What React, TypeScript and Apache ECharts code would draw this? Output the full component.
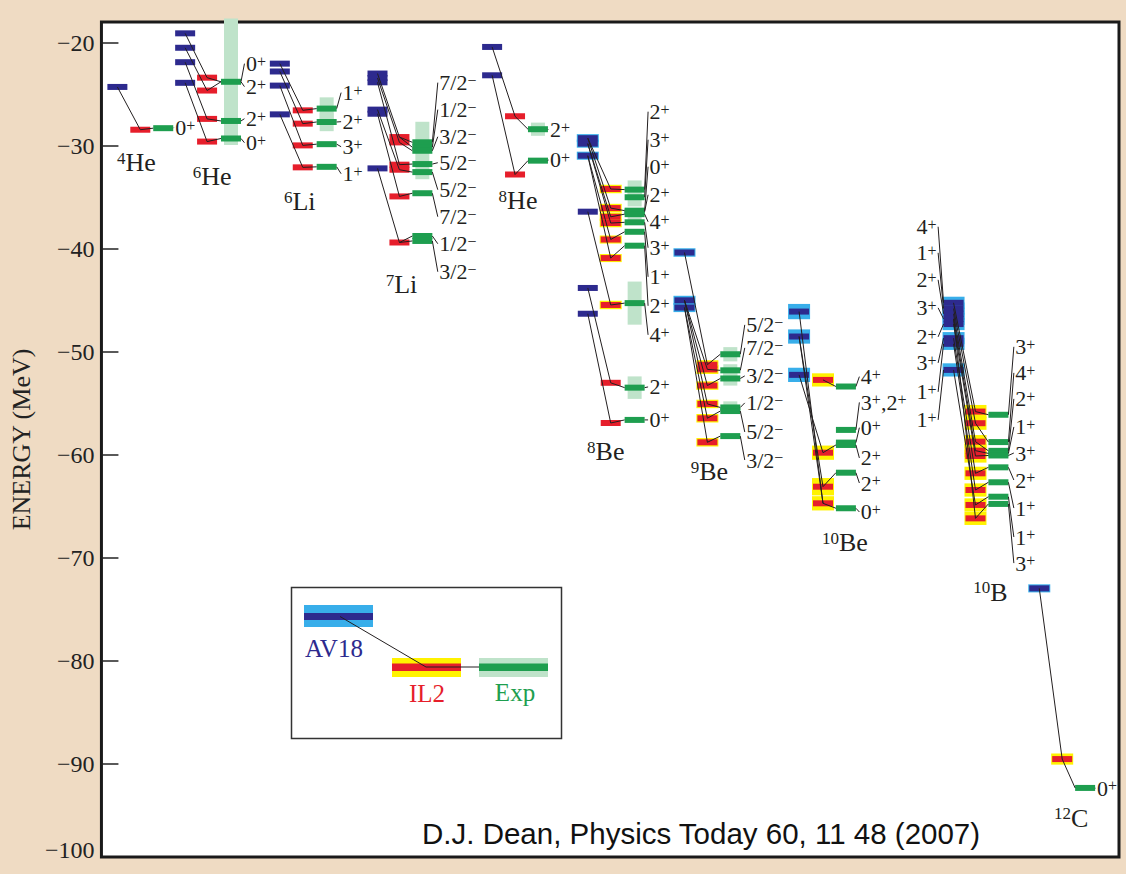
import React, { useEffect, useRef } from "react";
import * as echarts from "echarts";

// ---------------- data ----------------
const NUCLEUS_MASS = ["4", "6", "6", "7", "8", "8", "9", "10", "10", "12"];
const NUCLEUS_SYMBOL = ["He", "He", "Li", "Li", "He", "Be", "Be", "Be", "B", "C"];
const NAME_X = [133, 209, 297, 399, 516, 604, 708, 844, 990, 1071];
const NAME_E = [-31.65, -33.0, -35.44, -43.5, -35.34, -59.7, -61.65, -68.54, -73.3, -95.24];

// horizontal column positions of the three calculations / data for each nucleus
const X_AV18 = [114, 182, 277, 375, 490, 586, 683, 798, 953, 1039];
const X_IL2 = [137, 204, 300, 397, 513, 609, 706, 822, 975, 1062];
const X_EXP = [160, 228, 324, 420, 536, 633, 729, 845, 998, 1085];
const LABEL_X = [172, 243, 340, 437, 548, 648, 745, 860, 1015, 1097];

const AV18_E = [
  [-24.3],
  [-19.1, -20.5, -21.9, -23.9],
  [-22.04, -22.8, -24.17, -26.96],
  [-23.0, -23.43, -23.85, -26.5, -26.9, -32.2],
  [-20.42, -23.17],
  [-29.27, -29.8, -30.97, -36.4, -43.8, -46.3],
  [-40.36, -45.0, -45.7],
  [-46.09, -48.51, -52.23],
  [-45.24, -45.8, -46.3, -46.8, -47.3, -48.67, -49.22, -51.75],
  [-72.94],
];
const AV18_ERR = [
  [0],
  [0, 0, 0, 0],
  [0, 0, 0, 0],
  [0, 0, 0, 0, 0, 0],
  [0, 0],
  [0.1, 0.1, 0.1, 0, 0, 0],
  [0.12, 0.15, 0.15],
  [0.45, 0.4, 0.4],
  [0.3, 0.3, 0.3, 0.3, 0.3, 0.3, 0.3, 0.35],
  [0.1],
];
const IL2_E = [
  [-28.45],
  [-23.4, -24.65, -27.4, -29.6],
  [-26.57, -27.86, -29.97, -32.1],
  [-29.16, -29.68, -31.84, -32.33, -34.92, -39.39],
  [-27.15, -32.8],
  [-34.2, -36.05, -36.9, -37.5, -39.1, -40.9, -45.45, -53.0, -56.9],
  [-51.25, -51.7, -53.27, -55.05, -56.44, -58.77],
  [-52.72, -59.78, -63.08, -64.69],
  [-55.79, -56.92, -58.71, -59.58, -60.1, -61.78, -63.4, -64.85, -66.15],
  [-89.5],
];
const IL2_ERR = [
  [0],
  [0, 0, 0, 0],
  [0, 0, 0, 0],
  [0, 0, 0, 0, 0, 0],
  [0, 0],
  [0.12, 0.12, 0.12, 0.12, 0.1, 0.1, 0.12, 0, 0],
  [0.15, 0.15, 0.12, 0.12, 0.12, 0.12],
  [0.35, 0.4, 0.55, 0.4],
  [0.35, 0.35, 0.35, 0.35, 0.35, 0.35, 0.35, 0.35, 0.35],
  [0.25],
];
const EXP_E = [
  [-28.3],
  [-23.8, -27.6, -29.3],
  [-26.4, -27.7, -29.85, -32.05],
  [-29.67, -30.15, -30.49, -31.78, -32.56, -34.61, -38.76, -39.24],
  [-28.4, -31.45],
  [-34.26, -35.0, -36.3, -36.4, -36.64, -37.43, -38.35, -39.7, -45.27, -53.47, -56.6],
  [-50.23, -51.79, -52.58, -55.39, -55.74, -58.17],
  [-53.36, -57.57, -58.8, -59.03, -61.72, -65.17],
  [-56.1, -58.75, -59.6, -59.85, -60.05, -61.2, -62.65, -64.05, -64.75],
  [-92.3],
];
const EXP_ERR = [
  [0],
  [5.85, 0, 0],
  [0.8, 0.6, 0, 0],
  [1.7, 0, 0, 0, 0.4, 0, 0, 0],
  [0.35, 0],
  [0.6, 0.6, 0, 0, 0.3, 0, 0, 0, 1.8, 0.8, 0],
  [0.4, 0.3, 0.4, 0.3, 0, 0],
  [0, 0, 0, 0, 0, 0],
  [0, 0, 0, 0, 0, 0, 0, 0, 0],
  [0],
];

// which AV18 level goes to which IL2 level, and IL2 to experiment
const AV_IL_LINKS = [
  [[0, 0]],
  [[0, 0], [1, 1], [2, 2], [3, 3]],
  [[0, 0], [1, 1], [2, 2], [3, 3]],
  [[0, 0], [1, 1], [2, 2], [3, 3], [4, 4], [5, 5]],
  [[0, 0], [1, 1]],
  [[0, 0], [0, 1], [1, 2], [1, 3], [2, 4], [2, 5], [3, 6], [4, 7], [5, 8]],
  [[0, 0], [1, 1], [1, 2], [1, 3], [2, 4], [2, 5]],
  [[0, 3], [1, 2], [1, 3], [2, 1]],
  [[0, 0], [1, 1], [2, 2], [3, 3], [4, 4], [5, 5], [6, 6], [7, 7], [3, 8]],
  [[0, 0]],
];
const IL_EXP_LINKS = [
  [[0, 0]],
  [[0, 0], [1, 0], [2, 1], [3, 2]],
  [[0, 0], [1, 1], [2, 2], [3, 3]],
  [[0, 0], [0, 1], [1, 2], [2, 3], [3, 4], [4, 5], [5, 6], [5, 7]],
  [[0, 0], [1, 1]],
  [[0, 0], [1, 2], [2, 4], [3, 5], [4, 6], [5, 7], [6, 8], [7, 9], [8, 10]],
  [[0, 0], [1, 1], [2, 2], [3, 3], [4, 4], [5, 5]],
  [[0, 0], [1, 3], [2, 4], [3, 5]],
  [[0, 0], [1, 1], [2, 2], [3, 3], [4, 4], [5, 5], [6, 6], [7, 7], [8, 8]],
  [[0, 0]],
];

// spin-parity labels of the experimental levels
const SPIN_TEXT = [
  ["0+"],
  ["0+", "2+", "2+", "0+"],
  ["1+", "2+", "3+", "1+"],
  ["7/2−", "1/2−", "3/2−", "5/2−", "5/2−", "7/2−", "1/2−", "3/2−"],
  ["2+", "0+"],
  ["2+", "3+", "0+", "2+", "4+", "3+", "1+", "2+", "4+", "2+", "0+"],
  ["5/2−", "7/2−", "3/2−", "1/2−", "5/2−", "3/2−"],
  ["4+", "3+,2+", "0+", "2+", "2+", "0+"],
  ["3+", "4+", "2+", "1+", "3+", "2+", "1+", "1+", "3+"],
  ["0+"],
];
const SPIN_E = [
  [-28.25],
  [-22.04, -24.27, -27.38, -29.71],
  [-24.85, -27.67, -30.1, -32.72],
  [-23.88, -26.5, -29.13, -31.65, -34.27, -36.89, -39.51, -42.23],
  [-28.45, -31.36],
  [-26.7, -29.42, -32.04, -34.76, -37.38, -39.9, -42.72, -45.53, -48.35, -53.4, -56.6],
  [-47.38, -49.61, -52.33, -54.95, -57.77, -60.49],
  [-52.4, -54.9, -57.35, -60.29, -62.72, -65.53],
  [-49.51, -52.04, -54.56, -57.28, -59.81, -62.43, -65.15, -67.96, -70.49],
  [-92.33],
];
const SPIN_LEVEL = [
  [0],
  [0, 0, 1, 2],
  [0, 1, 2, 3],
  [0, 1, 2, 3, 4, 5, 6, 7],
  [0, 1],
  [0, 1, 2, 3, 4, 5, 6, 7, 8, 9, 10],
  [0, 1, 2, 3, 4, 5],
  [0, 1, 2, 3, 4, 5],
  [0, 1, 2, 3, 4, 5, 6, 7, 8],
  [0],
];
// spin labels of the 10B AV18 levels (left side)
const B10_AV_TEXT = ["4+", "1+", "2+", "3+", "2+", "3+", "1+", "1+"];
const B10_AV_E = [-37.86, -40.39, -43.01, -45.73, -48.54, -51.07, -53.88, -56.6];
const B10_AV_LEVEL = [0, 1, 2, 3, 4, 5, 6, 7];
const B10_AV_LABEL_X = 936;

const TICK_VALUES = [-20, -30, -40, -50, -60, -70, -80, -90];
const BOTTOM_LABEL_POS = -98.3;
const BOTTOM_LABEL = "−100";

// ---------------- styling ----------------
const NAVY = "#2d2a8e";
const LIGHT_BLUE = "#38aeea";
const RED = "#e61e2b";
const YELLOW = "#fff200";
const GREEN = "#1e9e4f";
const LIGHT_GREEN = "#bfe3ca";
const INK = "#231f20";
const SERIF = '"Liberation Serif", "Times New Roman", serif';
const BAR_W = 20;
const BAR_H = 6;
const EXP_HALO_W = 14;

type Bar = { x: number; e: number; fill: string };
type Halo = { x: number; e: number; err: number; fill: string; w: number };
type Seg = { x1: number; e1: number; o1: number; x2: number; e2: number; o2: number };
type Txt = { x: number; e: number; text: string; align: string; size: number; sup: number; lh: number; slh: number };

const sup = (s: string) => s.replace(/([+−])/g, "{s|$1}");

function buildMarks() {
  const bars: Bar[] = [];
  const halos: Halo[] = [];
  const segs: Seg[] = [];
  const texts: Txt[] = [];
  for (let i = 0; i < NUCLEUS_MASS.length; i++) {
    const cols: [number[], number[], number, string, string, number][] = [
      [AV18_E[i], AV18_ERR[i], X_AV18[i], NAVY, LIGHT_BLUE, BAR_W + 2],
      [IL2_E[i], IL2_ERR[i], X_IL2[i], RED, YELLOW, BAR_W + 2],
      [EXP_E[i], EXP_ERR[i], X_EXP[i], GREEN, LIGHT_GREEN, EXP_HALO_W],
    ];
    cols.forEach(([es, errs, x, c, hc, hw]) => {
      es.forEach((e, j) => {
        if (errs[j] > 0) halos.push({ x, e, err: errs[j], fill: hc, w: hw });
        bars.push({ x, e, fill: c });
      });
    });
    AV_IL_LINKS[i].forEach(([a, b]) =>
      segs.push({ x1: X_AV18[i], e1: AV18_E[i][a], o1: 0, x2: X_IL2[i], e2: IL2_E[i][b], o2: 0 })
    );
    IL_EXP_LINKS[i].forEach(([a, b]) =>
      segs.push({ x1: X_IL2[i], e1: IL2_E[i][a], o1: 0, x2: X_EXP[i], e2: EXP_E[i][b], o2: -BAR_W / 2 })
    );
    SPIN_TEXT[i].forEach((t, j) => {
      const lvl = SPIN_LEVEL[i][j];
      segs.push({ x1: X_EXP[i], e1: EXP_E[i][lvl], o1: BAR_W / 2, x2: LABEL_X[i], e2: SPIN_E[i][j], o2: -1.5 });
      texts.push({ x: LABEL_X[i], e: SPIN_E[i][j], text: sup(t), align: "left", size: 22, sup: 16, lh: 21, slh: 9 });
    });
    texts.push({
      x: NAME_X[i],
      e: NAME_E[i],
      text: `{m|${NUCLEUS_MASS[i]}}${NUCLEUS_SYMBOL[i]}`,
      align: "center",
      size: 26,
      sup: 17,
      lh: 26,
      slh: 11,
    });
  }
  B10_AV_TEXT.forEach((t, j) => {
    const lvl = B10_AV_LEVEL[j];
    segs.push({ x1: B10_AV_LABEL_X, e1: B10_AV_E[j], o1: 1.5, x2: X_AV18[8], e2: AV18_E[8][lvl], o2: -BAR_W / 2 });
    texts.push({ x: B10_AV_LABEL_X, e: B10_AV_E[j], text: sup(t), align: "right", size: 22, sup: 16, lh: 21, slh: 9 });
  });
  return { bars, halos, segs, texts };
}

function buildOption() {
  const { bars, halos, segs, texts } = buildMarks();
  return {
    animation: false,
    backgroundColor: "#efdbc3",
    grid: {
      left: 98,
      right: 7,
      top: 22,
      bottom: 17,
      show: true,
      backgroundColor: "#ffffff",
      borderColor: "#1a1a1a",
      borderWidth: 3,
    },
    xAxis: { type: "value", min: 98, max: 1119, show: false },
    yAxis: {
      type: "value",
      min: -99,
      max: -18,
      axisLine: { show: false },
      splitLine: { show: false },
      axisTick: {
        show: true,
        inside: true,
        length: 17,
        lineStyle: { color: "#222", width: 1.5 },
        customValues: TICK_VALUES,
      },
      axisLabel: {
        customValues: [...TICK_VALUES, BOTTOM_LABEL_POS],
        formatter: (v: number) => (v === BOTTOM_LABEL_POS ? BOTTOM_LABEL : "−" + Math.abs(v)),
        fontFamily: SERIF,
        fontSize: 24,
        color: "#222",
        margin: 7,
      },
      name: "ENERGY (MeV)",
      nameLocation: "middle",
      nameRotate: 90,
      nameGap: 57,
      nameTextStyle: { fontFamily: SERIF, fontSize: 26, color: "#222" },
    },
    series: [
      {
        type: "custom",
        z: 2,
        silent: true,
        data: halos.map((h) => [h.x, h.e]),
        renderItem: (params: any, api: any) => {
          const h = halos[params.dataIndex];
          const p = api.coord([h.x, h.e]);
          const dh = api.size([0, h.err])[1];
          return {
            type: "rect",
            shape: { x: p[0] - h.w / 2, y: p[1] - BAR_H / 2 - dh, width: h.w, height: BAR_H + 2 * dh },
            style: { fill: h.fill },
          };
        },
      },
      {
        type: "custom",
        z: 3,
        silent: true,
        data: bars.map((b) => [b.x, b.e]),
        renderItem: (params: any, api: any) => {
          const b = bars[params.dataIndex];
          const p = api.coord([b.x, b.e]);
          return {
            type: "rect",
            shape: { x: p[0] - BAR_W / 2, y: p[1] - BAR_H / 2, width: BAR_W, height: BAR_H },
            style: { fill: b.fill },
          };
        },
      },
      {
        type: "custom",
        z: 4,
        silent: true,
        data: segs.map((s) => [s.x1, s.e1]),
        renderItem: (params: any, api: any) => {
          const s = segs[params.dataIndex];
          const a = api.coord([s.x1, s.e1]);
          const b = api.coord([s.x2, s.e2]);
          return {
            type: "line",
            shape: { x1: a[0] + s.o1, y1: a[1], x2: b[0] + s.o2, y2: b[1] },
            style: { stroke: INK, lineWidth: 1 },
          };
        },
      },
      {
        type: "custom",
        z: 5,
        silent: true,
        data: texts.map((t) => [t.x, t.e]),
        renderItem: (params: any, api: any) => {
          const t = texts[params.dataIndex];
          const p = api.coord([t.x, t.e]);
          const supStyle = {
            fontSize: t.sup,
            fontFamily: SERIF,
            fill: INK,
            verticalAlign: "top",
            lineHeight: t.slh,
          };
          return {
            type: "text",
            x: p[0],
            y: p[1],
            style: {
              text: t.text,
              fill: INK,
              fontSize: t.size,
              fontFamily: SERIF,
              lineHeight: t.lh,
              align: t.align,
              textAlign: t.align,
              verticalAlign: "middle",
              textVerticalAlign: "middle",
              rich: { s: supStyle, m: supStyle },
            },
          };
        },
      },
    ],
    graphic: [
      {
        type: "group",
        z: 20,
        children: [
          {
            type: "rect",
            shape: { x: 291.5, y: 587.5, width: 270, height: 151 },
            style: { fill: "#ffffff", stroke: "#333", lineWidth: 1.5 },
          },
          { type: "rect", shape: { x: 304, y: 605, width: 69, height: 22 }, style: { fill: LIGHT_BLUE } },
          { type: "rect", shape: { x: 304, y: 613, width: 69, height: 7 }, style: { fill: NAVY } },
          { type: "rect", shape: { x: 392, y: 658, width: 69, height: 19 }, style: { fill: YELLOW } },
          { type: "rect", shape: { x: 392, y: 663.5, width: 69, height: 7.5 }, style: { fill: RED } },
          { type: "rect", shape: { x: 479, y: 658, width: 69, height: 19 }, style: { fill: LIGHT_GREEN } },
          { type: "rect", shape: { x: 479, y: 663.5, width: 69, height: 7.5 }, style: { fill: GREEN } },
          { type: "line", shape: { x1: 340, y1: 616.5, x2: 426, y2: 667 }, style: { stroke: INK, lineWidth: 1 } },
          { type: "line", shape: { x1: 426, y1: 667, x2: 479, y2: 667 }, style: { stroke: INK, lineWidth: 1 } },
          {
            type: "text",
            style: { text: "AV18", x: 305, y: 648, fill: NAVY, font: `25px ${SERIF}`, textAlign: "left", align: "left", textVerticalAlign: "middle", verticalAlign: "middle" },
          },
          {
            type: "text",
            style: { text: "IL2", x: 427, y: 693, fill: RED, font: `25px ${SERIF}`, textAlign: "center", align: "center", textVerticalAlign: "middle", verticalAlign: "middle" },
          },
          {
            type: "text",
            style: { text: "Exp", x: 515, y: 692, fill: GREEN, font: `25px ${SERIF}`, textAlign: "center", align: "center", textVerticalAlign: "middle", verticalAlign: "middle" },
          },
          {
            type: "text",
            style: {
              text: "D.J. Dean, Physics Today 60, 11 48 (2007)",
              x: 422,
              y: 833,
              fill: "#111",
              font: '29.5px "Liberation Sans", Arial, sans-serif',
              textAlign: "left",
              align: "left",
              textVerticalAlign: "middle",
              verticalAlign: "middle",
            },
          },
        ],
      },
    ],
  };
}

export default function App() {
  const ref = useRef<HTMLDivElement>(null);
  useEffect(() => {
    if (!ref.current) return;
    const chart = echarts.init(ref.current, undefined, { renderer: "svg" });
    chart.setOption(buildOption() as any);
    return () => chart.dispose();
  }, []);
  return <div ref={ref} style={{ position: "absolute", left: 0, top: 0, width: 1126, height: 874 }} />;
}
